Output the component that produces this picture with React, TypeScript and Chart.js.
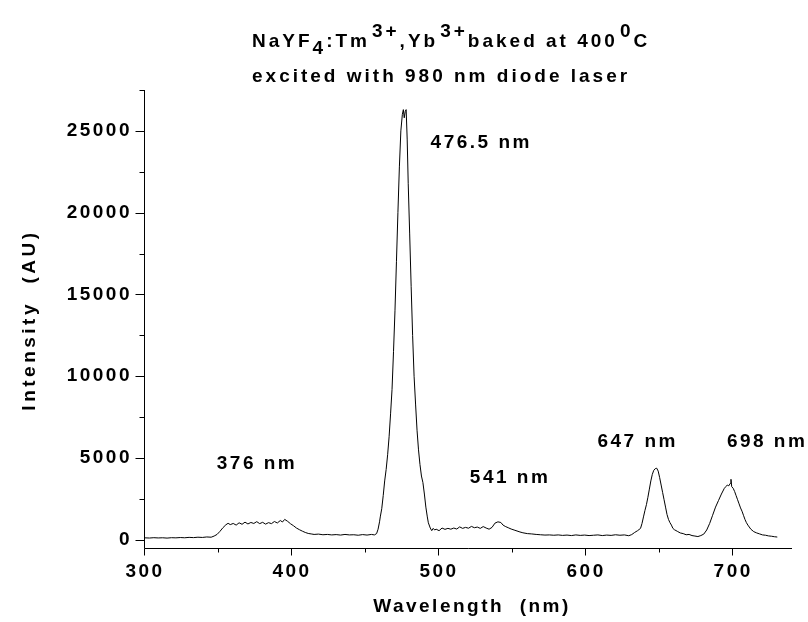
import { useEffect, useRef } from "react";
import { Chart, registerables } from "chart.js";

Chart.register(...registerables);

// ---------- axis ticks ----------
const xMajorTicks = [300, 400, 500, 600, 700];
const xMinorTicks = [350, 450, 550, 650];
const yMajorTicks = [0, 5000, 10000, 15000, 20000, 25000];
const yMinorTicks = [2500, 7500, 12500, 17500, 22500, 27500];
const xRange = [300, 740];
const yRange = [-500, 27500];

// ---------- spectrum: [wavelength nm, intensity AU] ----------
const baselineUV = [
  [300, 120], [303, 110], [306, 130], [309, 115], [312, 125], [315, 105], [318, 130],
  [321, 120], [324, 140], [327, 125], [330, 150], [333, 135], [336, 160], [339, 145],
  [342, 175], [345, 160], [347, 230], [349, 330], [351, 520], [353, 740], [355, 920],
  [356.5, 1010],
];
const band376 = [
  [358, 930], [360, 1000], [362, 900], [364, 1040], [366, 950], [368, 1080], [370, 970],
  [372, 1060], [374, 1000], [376, 1110], [378, 990], [380, 1070], [382, 960], [384, 1050],
  [386, 990], [388, 1120], [390, 1030], [392, 1180], [393.5, 1090], [395, 1250], [397, 1130],
  [399, 980], [401, 860], [403, 720], [405, 620], [407, 530], [409, 450], [411, 390],
  [413, 360], [415, 330], [418, 350], [421, 310], [424, 330], [427, 300], [430, 320],
  [433, 290], [436, 330], [439, 300], [442, 310], [445, 280], [448, 320], [451, 290],
  [454, 330], [456, 300], [457.5, 380], [458.5, 650], [459.5, 1100],
];
const peak476 = [
  [460, 1400], [461, 1900], [462, 2700], [463, 3600], [464, 4300], [465, 5200], [466, 6300],
  [467, 7700], [468, 9200], [469, 11500], [470, 14000], [471, 17000], [472, 20000],
  [473, 22800], [474, 25000], [475, 26000], [475.7, 26300], [476.3, 25800], [477, 26200],
  [477.6, 26300], [478.3, 24500], [479, 21800], [480, 18700], [481, 15500], [482, 12500],
  [483, 10000], [484, 8300], [485, 6700], [486, 5500], [487, 4600], [488, 3900], [489, 3500],
  [490, 2800], [491, 2000], [492, 1400], [492.7, 1040], [494, 720],
];
const band541 = [
  [495, 560], [496, 700], [497, 600], [498, 650], [500, 560], [502, 720], [504, 640],
  [506, 700], [508, 650], [510, 720], [512, 660], [514, 790], [516, 700], [518, 760],
  [520, 710], [522, 820], [524, 740], [526, 780], [528, 700], [530, 810], [532, 720],
  [534, 650], [536, 760], [538, 1020], [540, 1100], [542, 1060], [543.5, 900], [545, 820],
  [547, 740], [549, 660], [551, 600], [553, 540], [555, 480], [557, 430], [560, 380],
  [563, 360], [566, 330], [569, 310], [572, 290], [575, 300], [578, 280], [581, 300],
  [584, 270], [587, 290], [590, 260], [593, 300], [596, 270], [599, 290], [602, 260],
  [605, 280], [608, 300], [611, 260], [614, 290], [617, 270], [620, 310], [623, 280],
  [626, 300], [629, 250], [631, 320], [633, 450], [635, 560],
];
const peak647 = [
  [637, 700], [638, 1000], [639, 1400], [640, 1800], [641, 2150], [642, 2600], [643, 3100],
  [644, 3600], [645, 4000], [646, 4250], [647, 4350], [648, 4380], [649, 4200], [650, 3800],
  [651, 3350], [652, 2900], [653, 2450], [654, 2000], [655, 1550], [656, 1250], [657, 1050],
  [658, 900], [659, 700], [660, 620], [662, 520], [664, 420], [666, 380], [668, 310],
  [670, 330], [672, 260], [674, 230], [676, 200], [678, 260],
];
const peak698 = [
  [680, 350], [682, 600], [684, 1000], [686, 1500], [688, 2000], [690, 2400], [692, 2800],
  [694, 3150], [695, 3250], [696, 3350], [697, 3300], [698, 3450], [698.5, 3700], [699, 3250],
  [700, 3150], [701, 2950], [702, 2700], [703, 2450], [704, 2200], [705, 1950], [706, 1750],
  [707, 1500], [708, 1250], [709, 1050], [710, 900], [712, 650], [714, 500], [716, 420],
  [718, 360], [720, 300], [722, 280], [724, 240], [726, 220], [728, 190], [730, 170],
];

// ---------- peak labels ----------
const peakLabels = ["376 nm", "476.5 nm", "541 nm", "647 nm", "698 nm"];
const peakLabelX = [375.5, 528, 547.6, 634.4, 722.4];
const peakLabelY = [4740, 24390, 3880, 6110, 6110];

// ---------- texts ----------
const titleLine1 = [
  { t: "NaYF", s: 0 }, { t: "4", s: -1 }, { t: ":Tm", s: 0 }, { t: "3+", s: 1 },
  { t: ",Yb", s: 0 }, { t: "3+", s: 1 }, { t: "baked at 400", s: 0 }, { t: "0", s: 1 },
  { t: "C", s: 0 },
];
const titleLine2 = "excited with 980 nm diode laser";
const xTitle = "Wavelength  (nm)";
const yTitle = "Intensity  (AU)";

const FONT = "'Liberation Sans', Arial, Helvetica, sans-serif";
const SPACING = "2.5px";

const decorPlugin = {
  id: "decor",
  beforeDraw(chart: any) {
    (chart.ctx as any).letterSpacing = SPACING;
  },
  afterDraw(chart: any) {
    const ctx = chart.ctx as CanvasRenderingContext2D & { letterSpacing?: string };
    const xs = chart.scales.x;
    const ys = chart.scales.y;
    const area = chart.chartArea;
    ctx.save();
    ctx.strokeStyle = "#000";
    ctx.lineWidth = 1;
    ctx.beginPath();
    const ax = Math.round(area.left) - 0.5;
    const ay = Math.round(area.bottom) + 0.5;
    ctx.moveTo(ax, Math.round(area.top));
    ctx.lineTo(ax, ay);
    ctx.moveTo(ax, ay);
    ctx.lineTo(Math.round(area.right), ay);
    for (const v of yMajorTicks) {
      const p = Math.round(ys.getPixelForValue(v)) + 0.5;
      ctx.moveTo(ax - 9, p);
      ctx.lineTo(ax, p);
    }
    for (const v of yMinorTicks) {
      const p = Math.round(ys.getPixelForValue(v)) + 0.5;
      ctx.moveTo(ax - 5, p);
      ctx.lineTo(ax, p);
    }
    for (const v of xMajorTicks) {
      const p = Math.round(xs.getPixelForValue(v)) - 0.5;
      ctx.moveTo(p, ay);
      ctx.lineTo(p, ay + 7);
    }
    for (const v of xMinorTicks) {
      const p = Math.round(xs.getPixelForValue(v)) - 0.5;
      ctx.moveTo(p, ay);
      ctx.lineTo(p, ay + 4);
    }
    ctx.stroke();

    ctx.fillStyle = "#000";
    ctx.textBaseline = "alphabetic";
    ctx.letterSpacing = SPACING;
    // peak labels
    ctx.font = `bold 19px ${FONT}`;
    ctx.textAlign = "center";
    peakLabels.forEach((lab, i) => {
      const px = xs.getPixelForValue(peakLabelX[i]);
      const py = ys.getPixelForValue(peakLabelY[i]);
      ctx.fillText(lab, px + 1, py + 7);
    });

    // title
    ctx.font = `bold 19px ${FONT}`;
    ctx.letterSpacing = "3px";
    ctx.textAlign = "left";
    let x = 252;
    for (const seg of titleLine1) {
      const dy = seg.s === 1 ? -10 : seg.s === -1 ? 7 : 0;
      if (seg.s === 1) x += 2;
      ctx.fillText(seg.t, x, 47 + dy);
      x += ctx.measureText(seg.t).width;
    }
    ctx.fillText(titleLine2, 252, 82);

    // axis titles
    ctx.letterSpacing = SPACING;
    ctx.textAlign = "center";
    ctx.fillText(xTitle, 472, 612);
    ctx.letterSpacing = "3.5px";
    ctx.translate(35, 320);
    ctx.rotate(-Math.PI / 2);
    ctx.fillText(yTitle, 0, 0);
    ctx.restore();
  },
};

export default function App() {
  const ref = useRef<HTMLCanvasElement | null>(null);
  useEffect(() => {
    document.body.style.margin = "0";
    const canvas = ref.current;
    if (!canvas) return;
    const points = [...baselineUV, ...band376, ...peak476, ...band541, ...peak647, ...peak698].map(
      ([x, y]) => ({ x, y })
    );
    const chart = new Chart(canvas, {
      type: "line",
      data: {
        datasets: [
          {
            data: points,
            borderColor: "#000",
            borderWidth: 1,
            pointRadius: 0,
            tension: 0,
            fill: false,
          },
        ],
      },
      options: {
        animation: false,
        responsive: false,
        maintainAspectRatio: false,
        layout: { padding: { top: 90, right: 16, left: 0, bottom: 0 } },
        plugins: { legend: { display: false }, tooltip: { enabled: false }, title: { display: false } },
        scales: {
          x: {
            type: "linear",
            min: xRange[0],
            max: xRange[1],
            grid: { display: false },
            border: { display: false },
            afterBuildTicks: (s: any) => {
              s.ticks = xMajorTicks.map((v) => ({ value: v }));
            },
            afterFit: (s: any) => {
              s.height = 74;
            },
            ticks: {
              color: "#000",
              font: { family: FONT, size: 19, weight: "bold" },
              padding: 4,
              maxRotation: 0,
              autoSkip: false,
              callback: (v: any) => String(v),
            },
          },
          y: {
            type: "linear",
            min: yRange[0],
            max: yRange[1],
            grid: { display: false },
            border: { display: false },
            afterBuildTicks: (s: any) => {
              s.ticks = yMajorTicks.map((v) => ({ value: v }));
            },
            afterFit: (s: any) => {
              s.width = 145;
            },
            ticks: {
              color: "#000",
              font: { family: FONT, size: 19, weight: "bold" },
              padding: 5,
              autoSkip: false,
              callback: (v: any) => String(v),
            },
          },
        },
      },
      plugins: [decorPlugin],
    });
    return () => chart.destroy();
  }, []);
  return <canvas ref={ref} width={808} height={622} style={{ display: "block" }} />;
}
